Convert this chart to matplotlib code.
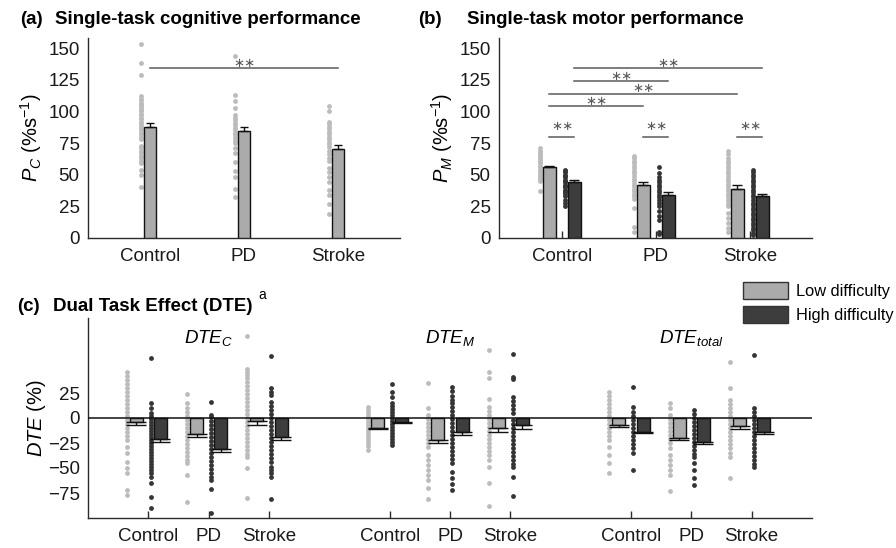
import numpy as np
import matplotlib
matplotlib.use("Agg")
import matplotlib.pyplot as plt
from matplotlib.patches import Patch

plt.rcParams["font.family"] = ["Liberation Sans", "DejaVu Sans"]
plt.rcParams["mathtext.fontset"] = "custom"
plt.rcParams["mathtext.rm"] = "Liberation Sans"
plt.rcParams["mathtext.it"] = "Liberation Sans:italic"
plt.rcParams["mathtext.bf"] = "Liberation Sans:bold"

groups = ["Control", "PD", "Stroke"]

# (a) single-task cognitive performance
pc_mean = [88, 84.5, 70.5]
pc_err = [3, 3, 3]
pc_dots = [
    [153, 138, 129, 112, 110, 109, 107, 106, 104, 103, 101, 100, 98, 97, 95, 94, 92, 91,
     89, 88, 86, 85, 83, 82, 80, 78, 73, 71, 69, 67, 65, 63, 61, 59, 54, 50, 40],
    [144, 113, 108, 103, 97, 95, 93, 91, 89, 87, 85, 83, 81, 79, 77, 75, 71, 67, 60, 53,
     48, 39, 32],
    [104, 100, 92, 90, 88, 86, 84, 82, 80, 78, 76, 74, 72, 69, 66, 63, 61, 55, 52, 48, 44,
     38, 34, 27, 19],
]

# (b) single-task motor performance
pm_low = [56, 42, 39]
pm_low_err = [1, 2, 2.5]
pm_high = [44.5, 34, 33]
pm_high_err = [1, 2, 2]
pm_low_dots = [
    [71, 69, 68, 66, 65, 63, 62, 60, 59, 57, 56, 54, 53, 51, 50, 48, 47, 45, 37],
    [65, 63, 61, 59, 57, 55, 53, 51, 49, 47, 45, 43, 41, 39, 37, 35, 33, 31, 24, 9, 5],
    [69, 66, 63, 61, 59, 57, 55, 53, 51, 49, 47, 45, 43, 41, 39, 37, 35, 33, 31, 29, 27,
     25, 20, 16, 12, 8, 5],
]
pm_high_dots = [
    [54, 53, 52, 50, 49, 48, 46, 45, 44, 42, 41, 40, 38, 37, 36, 35, 33, 30, 28, 25],
    [56, 51, 48, 46, 44, 42, 40, 38, 36, 34, 32, 30, 28, 25, 21, 17, 14, 5, 3],
    [54, 52, 50, 48, 46, 44, 42, 40, 38, 36, 34, 32, 30, 28, 26, 24, 22, 20, 18, 16, 14,
     12, 10, 8, 6, 4, 2],
]
# significance lines in (b): (x start, x end, y)
pm_sig = [(1.133, 3.133, 134), (1.133, 2.133, 124), (0.867, 2.867, 114),
          (0.867, 1.867, 104)]
pm_sig_within = [(0.867, 1.133, 80), (1.867, 2.133, 80), (2.867, 3.133, 80)]

# (c) dual task effect
dte_names = [r"$DTE_C$", r"$DTE_M$", r"$DTE_{total}$"]
dte_low = [[-4, -16, -3], [-10, -22, -10], [-7, -20, -8]]
dte_low_err = [[3, 3, 4], [1, 3, 4], [2, 2, 3]]
dte_high = [[-21, -31, -19], [-4, -14, -7], [-14, -24, -14]]
dte_high_err = [[3, 3, 3], [1, 3, 4], [1, 2, 2]]
dte_low_dots = [
    [
        [46, 42, 38, 34, 30, 26, 22, 18, 14, 10, 6, 2, -2, -6, -10, -14, -18, -22, -29,
         -35, -44, -50, -55, -72, -77],
        [24, 15, 10, 6, 2, -2, -6, -10, -14, -18, -22, -26, -30, -34, -38, -42, -45, -57,
         -84],
        [82, 49, 46, 43, 40, 36, 32, 28, 24, 20, 16, 12, 8, 4, 0, -4, -8, -12, -16, -20,
         -24, -28, -32, -36, -39, -50, -80],
    ],
    [
        [11, 8, 5, 2, -1, -4, -7, -10, -13, -16, -19, -22, -25, -28, -32],
        [35, 10, 3, -1, -5, -9, -13, -17, -21, -25, -29, -37, -42, -47, -52, -57, -62,
         -70, -81],
        [68, 46, 40, 19, 11, 7, 3, -1, -5, -9, -13, -17, -21, -25, -29, -33, -37, -42,
         -49, -65, -88],
    ],
    [
        [26, 22, 18, 14, 10, 6, 2, -2, -6, -10, -14, -18, -22, -29, -37, -45, -55],
        [15, 10, 3, -1, -5, -9, -13, -17, -21, -25, -30, -37, -42, -47, -52, -57, -73],
        [56, 30, 18, 14, 10, 6, 2, -2, -6, -10, -14, -18, -22, -26, -30, -35, -39, -60],
    ],
]
dte_high_dots = [
    [
        [60, 15, 10, 5, 2, -1, -4, -7, -10, -13, -16, -19, -22, -25, -28, -31, -34, -37,
         -40, -43, -46, -49, -52, -55, -59, -65, -79, -90],
        [16, 3, 1, -3, -7, -11, -15, -19, -23, -27, -31, -35, -39, -43, -47, -51, -55,
         -59, -62, -71, -95],
        [62, 30, 26, 23, 16, 12, 8, 4, 0, -4, -8, -12, -16, -20, -24, -28, -32, -36, -40,
         -44, -49, -52, -55, -59, -81],
    ],
    [
        [34, 26, 21, 15, 12, 9, 6, 3, 0, -3, -6, -9, -12, -15, -18, -21, -24, -27],
        [31, 27, 22, 18, 15, 11, 7, 3, -1, -5, -9, -13, -17, -21, -25, -29, -33, -37,
         -41, -45, -54, -60, -66, -72],
        [64, 41, 39, 21, 17, 13, 9, 5, -2, -6, -10, -14, -18, -22, -26, -30, -34, -38,
         -42, -46, -49, -59, -78],
    ],
    [
        [31, 11, 6, 2, -2, -6, -10, -14, -18, -22, -26, -30, -35, -52],
        [8, 4, 0, -4, -8, -12, -16, -20, -24, -28, -32, -36, -39, -45, -52, -60, -67],
        [63, 10, 6, 2, -2, -6, -10, -14, -18, -22, -26, -30, -34, -38, -42, -46, -49],
    ],
]

light_bar = "#ababab"
dark_bar = "#3d3d3d"
light_dot = "#bcbcbc"
dark_dot = "#353535"
axis_col = "#2b2b2b"
sig_col = "#5a5a5a"
fs = 13.5
fs_lab = 14.5

fig = plt.figure(figsize=(8.96, 5.48), dpi=100)
W, H = 896.0, 548.0


def px_axes(x0, y0, x1, y1):
    return fig.add_axes([x0 / W, 1 - y1 / H, (x1 - x0) / W, (y1 - y0) / H])


def style(ax):
    for s in ["top", "right"]:
        ax.spines[s].set_visible(False)
    for s in ["left", "bottom"]:
        ax.spines[s].set_color(axis_col)
        ax.spines[s].set_linewidth(1.0)
    ax.tick_params(axis="y", length=0, pad=6, labelsize=fs, labelcolor="#1a1a1a")
    ax.tick_params(axis="x", direction="in", length=5, width=1, color=axis_col,
                   pad=7, labelsize=fs, labelcolor="#1a1a1a")


def stars(ax, x0, x1, y, dy):
    ax.plot([x0, x1], [y, y], color=sig_col, lw=1.1, zorder=2)
    ax.text((x0 + x1) / 2, y + dy, "\u2217\u2217", ha="center", va="center",
            fontsize=9.5, color=sig_col, family="DejaVu Sans")


x = np.arange(1, 4)

# ---- (a)
ax_a = px_axes(88, 38, 400, 238)
style(ax_a)
for i in range(3):
    ax_a.scatter(np.full(len(pc_dots[i]), x[i] - 0.1), pc_dots[i], s=12,
                 color=light_dot, lw=0, zorder=2)
ax_a.bar(x, pc_mean, width=0.13, color=light_bar, edgecolor="#111111", lw=1.0, zorder=3)
ax_a.errorbar(x, pc_mean, yerr=[np.zeros(3), pc_err], fmt="none", ecolor="#111111",
              elinewidth=1, capsize=3, capthick=1, zorder=4)
stars(ax_a, 1, 3, 134, 3.8)
ax_a.set_xlim(0.34, 3.66)
ax_a.set_ylim(0, 158)
ax_a.set_yticks(np.arange(0, 151, 25))
ax_a.set_xticks(x)
ax_a.set_xticklabels(groups)
ax_a.set_ylabel(r"$P_C$ (%s$^{-1}$)", fontsize=fs_lab, labelpad=3)

# ---- (b)
ax_b = px_axes(499, 38, 812, 238)
style(ax_b)
off = 0.133
for i in range(3):
    ax_b.scatter(np.full(len(pm_low_dots[i]), x[i] - off - 0.1), pm_low_dots[i], s=12,
                 color=light_dot, lw=0, zorder=2)
    ax_b.scatter(np.full(len(pm_high_dots[i]), x[i] + off - 0.1), pm_high_dots[i], s=12,
                 color=dark_dot, lw=0, zorder=2)
ax_b.bar(x - off, pm_low, width=0.13, color=light_bar, edgecolor="#111111", lw=1.0,
         zorder=3)
ax_b.bar(x + off, pm_high, width=0.13, color=dark_bar, edgecolor="#111111", lw=1.0,
         zorder=3)
ax_b.errorbar(x - off, pm_low, yerr=[np.zeros(3), pm_low_err], fmt="none",
              ecolor="#111111", elinewidth=1, capsize=3.5, capthick=1, zorder=4)
ax_b.errorbar(x + off, pm_high, yerr=[np.zeros(3), pm_high_err], fmt="none",
              ecolor="#111111", elinewidth=1, capsize=3.5, capthick=1, zorder=4)
for x0, x1, y in pm_sig:
    stars(ax_b, x0, x1, y, 3.8)
for x0, x1, y in pm_sig_within:
    stars(ax_b, x0, x1, y, 7.8)
ax_b.set_xlim(0.33, 3.66)
ax_b.set_ylim(0, 158)
ax_b.set_yticks(np.arange(0, 151, 25))
ax_b.set_xticks(x)
ax_b.set_xticklabels(groups)
ax_b.set_ylabel(r"$P_M$ (%s$^{-1}$)", fontsize=fs_lab, labelpad=3)

# ---- (c)
ax_c = px_axes(88, 318, 812, 518)
style(ax_c)
ax_c.axhline(0, color="#111111", lw=1.1, zorder=5)
boff = 0.2
doff = 0.16
ticks = []
for k in range(3):
    pos = np.arange(3) + 1 + 4 * k
    ticks.extend(pos)
    for i in range(3):
        lo = dte_low_dots[k][i]
        hi = dte_high_dots[k][i]
        ax_c.scatter(np.full(len(lo), pos[i] - boff - doff), lo, s=12, color=light_dot,
                     lw=0, zorder=2)
        ax_c.scatter(np.full(len(hi), pos[i] + boff - doff), hi, s=12, color=dark_dot,
                     lw=0, zorder=2)
    ax_c.bar(pos - boff, dte_low[k], width=0.215, color=light_bar, edgecolor="#111111",
             lw=1.0, zorder=3)
    ax_c.bar(pos + boff, dte_high[k], width=0.215, color=dark_bar, edgecolor="#111111",
             lw=1.0, zorder=3)
    ax_c.errorbar(pos - boff, dte_low[k], yerr=[dte_low_err[k], np.zeros(3)], fmt="none",
                  ecolor="#111111", elinewidth=1, capsize=7, capthick=1, zorder=4)
    ax_c.errorbar(pos + boff, dte_high[k], yerr=[dte_high_err[k], np.zeros(3)],
                  fmt="none", ecolor="#111111", elinewidth=1, capsize=7, capthick=1,
                  zorder=4)
    ax_c.text(pos[1], 75, dte_names[k], ha="center", va="baseline", fontsize=fs)
ax_c.set_xlim(0, 12)
ax_c.set_ylim(-100, 100)
ax_c.set_yticks([-75, -50, -25, 0, 25])
ax_c.set_xticks(ticks)
ax_c.set_xticklabels(groups * 3)
ax_c.set_ylabel(r"$DTE$ (%)", fontsize=fs_lab, labelpad=0)

# ---- panel titles
fig.text(20 / W, 1 - 24 / H, "(a)", fontsize=fs, fontweight="bold", va="baseline")
fig.text(55 / W, 1 - 24 / H, "Single-task cognitive performance", fontsize=fs,
         fontweight="bold", va="baseline")
fig.text(418 / W, 1 - 24 / H, "(b)", fontsize=fs, fontweight="bold", va="baseline")
fig.text(467 / W, 1 - 24 / H, "Single-task motor performance", fontsize=fs,
         fontweight="bold", va="baseline")
fig.text(17 / W, 1 - 311 / H, "(c)", fontsize=fs, fontweight="bold", va="baseline")
t = fig.text(53 / W, 1 - 311 / H, "Dual Task Effect (DTE)", fontsize=fs,
             fontweight="bold", va="baseline")
fig.canvas.draw()
bb = t.get_window_extent()
fig.text((bb.x1 + 6) / W, 1 - 299 / H, "a", fontsize=10, va="baseline")

fig.legend(handles=[Patch(facecolor=light_bar, edgecolor="#333333", lw=1.0),
                    Patch(facecolor=dark_bar, edgecolor="#333333", lw=1.0)],
           labels=["Low difficulty", "High difficulty"], loc="upper left",
           bbox_to_anchor=(743 / W, 1 - 282 / H), frameon=False, borderpad=0,
           borderaxespad=0, handlelength=2.75, handleheight=1.25, handletextpad=0.5,
           labelspacing=0.4, fontsize=11.8)

fig.savefig("out.png", dpi=100)
